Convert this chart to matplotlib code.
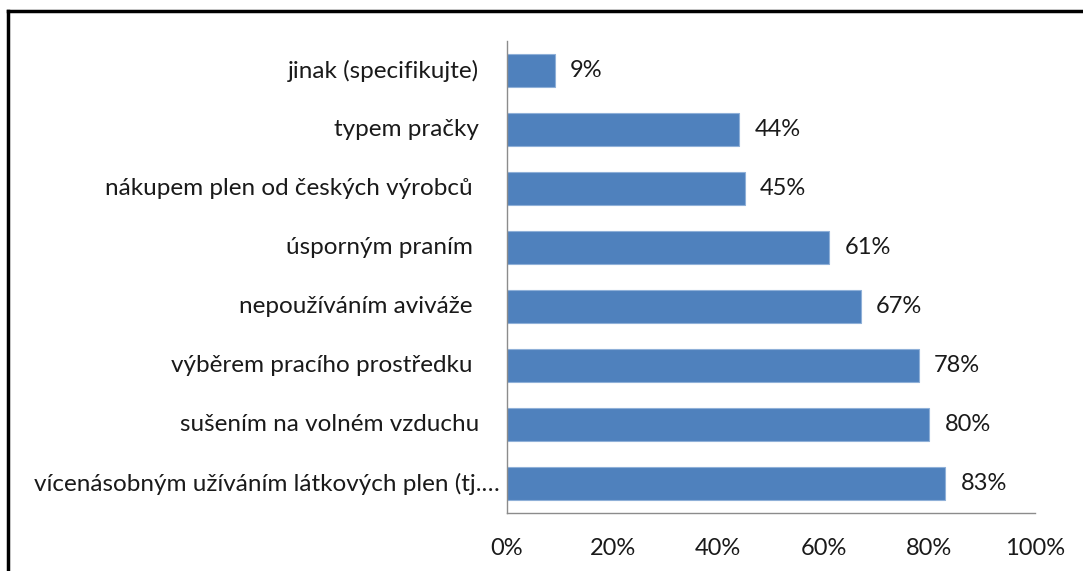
import matplotlib
matplotlib.use("Agg")
import matplotlib.pyplot as plt
from matplotlib.lines import Line2D

plt.rcParams['font.family'] = ['Lato', 'DejaVu Sans']

categories = [
    "vícenásobným užíváním látkových plen (tj.…",
    "sušením na volném vzduchu",
    "výběrem pracího prostředku ",
    "nepoužíváním aviváže ",
    "úsporným praním ",
    "nákupem plen od českých výrobců ",
    "typem pračky",
    "jinak (specifikujte)",
]
values = [83, 80, 78, 67, 61, 45, 44, 9]
xticks = [0, 20, 40, 60, 80, 100]
xtick_labels = ["0%", "20%", "40%", "60%", "80%", "100%"]

fig = plt.figure(figsize=(10.83, 5.71), dpi=100)
ax = fig.add_axes([507 / 1083, 1 - 513 / 571, (1035 - 507) / 1083, (513 - 41) / 571])

ypos = list(range(len(categories)))
ax.barh(ypos, values, height=0.57, color="#4F81BD", edgecolor="#8fb0d8", linewidth=0.8)
ax.set_xlim(0, 100)
ax.set_ylim(-0.5, len(categories) - 0.5)

for y, v in zip(ypos, values):
    ax.annotate(f"{v}%", (v, y), xytext=(11, 0), textcoords="offset points",
                va="center", ha="left", fontsize=17, color="#1a1a1a")

ax.set_yticks(ypos)
ax.set_yticklabels([])
for y, lab in zip(ypos, categories):
    off = -5 if lab.startswith("víc") else -20
    ax.annotate(lab, (0, y), xytext=(off, 0), textcoords="offset points",
                va="center", ha="right", fontsize=17.5, color="#1a1a1a",
                xycoords=ax.get_yaxis_transform())

ax.set_xticks(xticks)
ax.set_xticklabels(xtick_labels, fontsize=17, color="#1a1a1a")
ax.tick_params(length=0)
ax.tick_params(axis="x", pad=18)
for s in ["top", "right"]:
    ax.spines[s].set_visible(False)
for s in ["left", "bottom"]:
    ax.spines[s].set_color("#8c8c8c")
    ax.spines[s].set_linewidth(1)

# outer frame (top and left only visible)
fig.add_artist(Line2D([8 / 1083, 8 / 1083], [0, 1 - 11 / 571], color="black", lw=2.5))
fig.add_artist(Line2D([8 / 1083, 1], [1 - 11 / 571, 1 - 11 / 571], color="black", lw=2.5))

fig.savefig("out.png", dpi=100)
